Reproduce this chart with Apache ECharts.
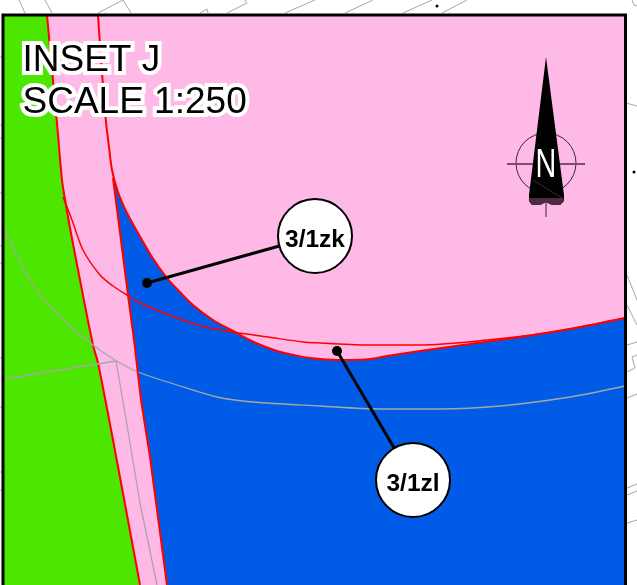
<!DOCTYPE html>
<html>
<head>
<meta charset="utf-8">
<title>Inset J</title>
<script src="https://cdn.jsdelivr.net/npm/echarts@6/dist/echarts.min.js"></script>
<style>
  html, body { margin: 0; padding: 0; background: #fff; }
  #chart { width: 637px; height: 585px; }
</style>
</head>
<body>
<div id="chart"></div>
<script>
const frame = [[3, 15], [625.5, 15], [625.5, 590], [3, 590]]

const greenBlock = [[3, 15], [47, 15], [47, 585], [3, 585]]
const greenEdge = [[47, 15], [53, 80], [57, 123], [62, 180], [66, 205], [70, 228], [80, 280], [93, 345], [98, 363], [113, 440], [140, 585]]
const parcelArc = [[98, 15], [100, 45], [102, 73], [104, 98], [106, 122], [109, 147], [112, 170], [118, 192], [127, 213], [138, 233], [152, 257], [167, 278], [180, 292], [193, 305], [213, 320], [235, 332], [256, 343], [277, 351], [294, 355], [310, 358], [337, 360], [353, 360], [370, 359], [387, 356], [420, 351], [470, 344], [520, 337], [575, 328], [625, 318]]
const blueArc = [[112, 170], [118, 192], [127, 213], [138, 233], [152, 257], [167, 278], [180, 292], [193, 305], [213, 320], [235, 332], [256, 343], [277, 351], [294, 355], [310, 358], [337, 360], [353, 360], [370, 359], [387, 356], [420, 351], [470, 344], [520, 337], [575, 328], [625, 318]]
const blueEdge = [[113, 178], [128, 295], [134, 340], [141, 400], [150, 457], [167, 585]]
const stripMask = [[112, 170], [113, 178], [128, 295], [134, 340], [141, 400], [150, 457], [167, 585], [90, 585], [90, 170]]
const upperCurve = [[63, 197], [72, 220], [83, 250], [100, 275], [113, 286], [127, 295], [140, 303], [177, 318], [205, 327], [233, 332], [268, 337], [303, 342], [320, 343], [370, 345], [420, 345], [487, 340], [553, 332], [625, 318]]

const greyArc = [[4, 228], [30, 280], [60, 317], [93, 345], [115, 360], [138, 372], [177, 385], [217, 397], [253, 402], [320, 406], [380, 409], [440, 409], [500, 406], [570, 397], [625, 386]]
const greyWest = [[3, 379], [97, 364], [116, 361]]
const greySouth = [[116, 361], [125, 413], [140, 503], [157, 585]]

const outerLines = [
  [[25, 13], [19, 0]], [[52, 13], [45, 0]], [[98, 13], [123, 0], [131, 13]],
  [[200, 13], [207, 9], [208, 13]], [[227, 13], [247, 3], [245, 0]], [[285, 13], [315, 0]],
  [[345, 13], [373, 0]], [[403, 13], [432, 0]], [[442, 13], [467, 0]],
  [[632, 0], [634, 5], [637, 6]], [[626, 103], [637, 106]],
  [[627, 275], [637, 300]], [[627, 305], [637, 325]], [[627, 345], [637, 342]],
  [[627, 372], [635, 368], [632, 357], [637, 355]], [[627, 398], [637, 394]],
  [[627, 488], [637, 484]], [[627, 495], [637, 491]], [[627, 523], [637, 520]],
  [[0, 57], [2, 57]], [[0, 125], [2, 125]], [[0, 138], [2, 138]], [[0, 193], [2, 193]],
  [[0, 246], [2, 246]], [[0, 263], [2, 263]], [[0, 358], [2, 358]], [[0, 407], [2, 407]],
  [[0, 472], [2, 472]], [[0, 490], [2, 490]]
]
const specks = [[437, 6], [634, 172]]

const needle = [[546, 57], [564, 195], [564, 201], [560, 205], [552, 205], [546, 202], [540, 205], [532, 205], [529, 201], [529, 195]]
const needleFoot = [[529.5, 198], [563.5, 198], [564, 201], [560, 205], [552, 205], [546, 202], [540, 205], [532, 205], [529, 201]]
const needleSeam = [[533, 180], [562, 198]]
const compassCentre = [546, 163]
const compassBar = [[507, 164], [585, 164]]
const compassTail = [[546, 200], [546, 217]]
const northLabel = ['N']
const northPoint = [546, 166]

const titleLines = ['INSET J', 'SCALE 1:250']
const titlePoints = [[22, 61], [22, 103]]

const parcelNames = ['3/1zk', '3/1zl']
const parcelBubbles = [[315, 236], [413, 480]]
const parcelDots = [[147, 283], [337, 351]]

const pinkFill = '#feb9e6'
const greenFill = '#4ce600'
const blueFill = '#005ce6'
const red = '#ff0000'
const grey = '#a6a6a6'

function polygonSeries(points, fill, stroke, width) {
  return {
    type: 'custom',
    coordinateSystem: 'cartesian2d',
    silent: true,
    clip: false,
    data: [points[0]],
    renderItem(params, api) {
      return {
        type: 'polygon',
        shape: { points: points.map(p => api.coord(p)) },
        style: { fill: fill, stroke: stroke || null, lineWidth: width || 0 }
      }
    }
  }
}

function lineSeries(points, color, width, curved) {
  return {
    type: 'line',
    data: points,
    symbol: 'none',
    silent: true,
    clip: false,
    smooth: curved ? 0.3 : false,
    lineStyle: { color: color, width: width }
  }
}

// filled below the line, down to the bottom of the y axis
function zoneSeries(points, fill, edgeColor, edgeWidth) {
  const s = lineSeries(points, edgeColor, edgeWidth, true)
  s.areaStyle = { color: fill, opacity: 1, origin: 'end' }
  return s
}

const seriesList = [
  polygonSeries(frame, pinkFill),
  zoneSeries(blueArc, blueFill, red, 0),
  polygonSeries(stripMask, pinkFill),
  polygonSeries(greenBlock, greenFill),
  zoneSeries(greenEdge, greenFill, red, 2),
  lineSeries(greyArc, grey, 1.3, true),
  lineSeries(greyWest, grey, 1.3),
  lineSeries(greySouth, grey, 1.3),
  ...outerLines.map(l => lineSeries(l, grey, 1)),
  lineSeries(parcelArc, red, 2, true),
  lineSeries(blueEdge, red, 2),
  lineSeries(upperCurve, red, 1.5, true),
  polygonSeries(frame, 'none', '#000', 3),
  {
    type: 'scatter',
    data: specks,
    symbolSize: 3,
    silent: true,
    itemStyle: { color: '#000', opacity: 1 }
  },
  // north arrow
  {
    type: 'custom',
    silent: true,
    data: [compassCentre],
    renderItem(params, api) {
      const c = api.coord(compassCentre)
      return { type: 'circle', shape: { cx: c[0], cy: c[1], r: 30 }, style: { fill: 'none', stroke: '#3a2436', lineWidth: 1 } }
    }
  },
  lineSeries(compassBar, '#7c4d70', 2.2),
  lineSeries(compassTail, '#3a2436', 1),
  polygonSeries(needle, '#000'),
  polygonSeries(needleFoot, '#4a2b42'),
  lineSeries(needleSeam, '#6a4460', 0.6),
  {
    type: 'custom',
    silent: true,
    data: [northPoint],
    renderItem(params, api) {
      const c = api.coord(northPoint)
      return {
        type: 'text',
        x: c[0],
        y: c[1],
        scaleX: 0.72,
        style: {
          text: northLabel[0],
          fill: '#fff',
          font: '40px "Liberation Sans"',
          align: 'center',
          verticalAlign: 'middle'
        }
      }
    }
  },
  // leaders and bubbles
  ...parcelDots.map((d, i) => lineSeries([d, parcelBubbles[i]], '#000', 3)),
  {
    type: 'scatter',
    data: parcelDots,
    symbolSize: 10,
    silent: true,
    itemStyle: { color: '#000', opacity: 1 }
  },
  {
    type: 'scatter',
    data: parcelBubbles,
    symbolSize: 74,
    silent: true,
    itemStyle: { color: '#fff', borderColor: '#000', borderWidth: 2, opacity: 1 },
    label: {
      show: true,
      position: 'inside',
      offset: [0, 4],
      formatter: p => parcelNames[p.dataIndex],
      color: '#000',
      fontFamily: 'Liberation Sans',
      fontWeight: 'bold',
      fontSize: 24.5
    }
  },
  {
    type: 'scatter',
    data: titlePoints,
    symbolSize: 1,
    silent: true,
    itemStyle: { color: 'transparent', opacity: 1 },
    label: {
      show: true,
      position: 'right',
      distance: 0,
      formatter: p => titleLines[p.dataIndex],
      color: '#000',
      fontFamily: 'Liberation Sans',
      fontSize: 37,
      textBorderColor: '#fff',
      textBorderWidth: 8
    }
  }
]
seriesList.forEach((s, i) => { s.z = i + 1 })

const option = {
  animation: false,
  tooltip: { show: false },
  grid: { left: 0, right: 0, top: 0, bottom: 0 },
  xAxis: { type: 'value', min: 0, max: 637, show: false },
  yAxis: { type: 'value', min: 0, max: 585, inverse: true, show: false },
  series: seriesList
}

const chart = echarts.init(document.getElementById('chart'), null, { renderer: 'canvas' })
chart.setOption(option)
</script>
</body>
</html>
